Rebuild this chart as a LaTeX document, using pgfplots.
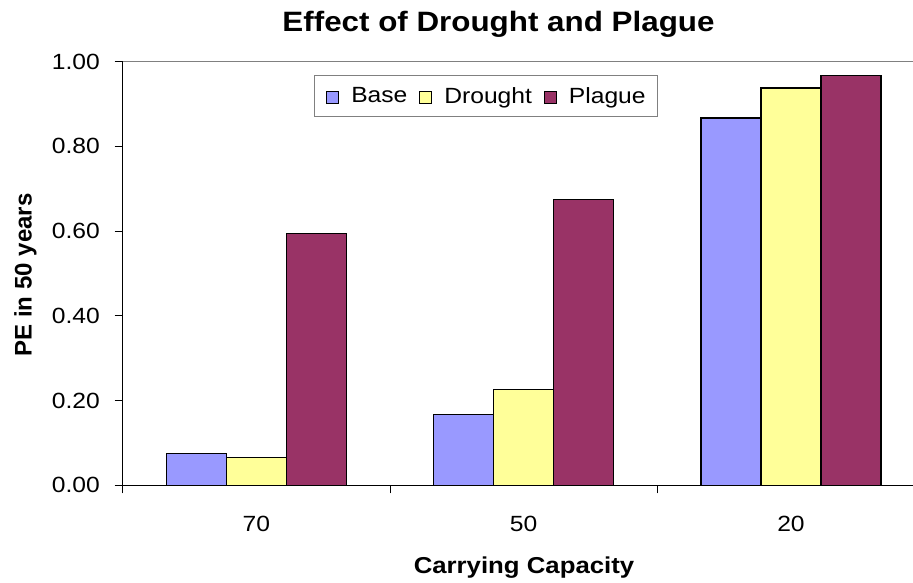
\documentclass[border=0pt]{standalone}
\usepackage{pgfplots}
\pgfplotsset{compat=1.18}
\usepackage{fontspec}
\setmainfont{Liberation Sans}
% slightly widened Arial-metric face for horizontal text
\newfontfamily\widefont[FakeStretch=1.12]{Liberation Sans}
\definecolor{baseblue}{HTML}{9999FF}
\definecolor{droughtyellow}{HTML}{FFFF99}
\definecolor{plaguepurple}{HTML}{993366}
\definecolor{frame}{HTML}{808080}

\newcommand\tickfont{\widefont\fontsize{22}{26}\selectfont}

\begin{document}
\begin{tikzpicture}[x=1pt,y=1pt]
\useasboundingbox (0,0) rectangle (913,583);
\begin{axis}[
  at={(122.7pt,97.7pt)}, anchor=south west,
  scale only axis, width=790.3pt, height=423.6pt,
  xmin=-0.5, xmax=2.4566, ymin=0, ymax=1,
  clip=false,
  axis x line*=bottom, axis y line*=left,
  axis line style={black, line width=0.9pt, -},
  tick align=outside, major tick length=8pt,
  tick style={black, line width=0.9pt},
  xtick={-0.5,0.5,1.5}, xticklabels={},
  extra x ticks={0,1,2}, extra x tick labels={70,50,20},
  extra x tick style={major tick length=0pt,
    xticklabel style={anchor=base, inner sep=0pt, yshift=-46.4pt}},
  ytick={0,0.2,0.4,0.6,0.8,1},
  yticklabel style={anchor=east, inner sep=0pt, xshift=-14.7pt},
  tick label style={font=\tickfont},
  /pgf/number format/fixed,
  /pgf/number format/fixed zerofill,
  /pgf/number format/precision=2,
  /pgf/number format/assume math mode=true,
  title={Effect of Drought and Plague},
  title style={at={(axis description cs:0.4755,1.056)}, anchor=base,
    inner sep=0pt, font=\widefont\bfseries\fontsize{28}{32}\selectfont},
  xlabel={Carrying Capacity},
  xlabel style={at={(axis description cs:0.5078,-0.2082)}, anchor=base,
    inner sep=0pt, font=\widefont\bfseries\fontsize{23}{27}\selectfont},
  ylabel={PE in 50 years},
  ylabel style={at={(axis description cs:-0.1151,0.4965)}, anchor=base,
    rotate=0, inner sep=0pt, font=\bfseries\fontsize{24}{28}\selectfont},
  legend columns=3,
  legend style={at={(axis description cs:0.4597,0.9186)}, anchor=center,
    draw=frame, line width=0.9pt, fill=white,
    inner xsep=12pt, inner ysep=11.6pt,
    column sep=12pt, nodes={inner sep=0pt},
    font=\tickfont},
  % square key sitting on the text baseline
  legend image code/.code={
    \draw[#1, line width=0.9pt] (0pt,-7.5pt) rectangle (12pt,4.5pt);},
]
\addplot[ybar, bar width=0.2245, bar shift=-0.2245,
  fill=baseblue, draw=black, line width=1.2pt]
  coordinates {(0,0.076) (1,0.168) (2,0.867)};
\addplot[ybar, bar width=0.2245, bar shift=0,
  fill=droughtyellow, draw=black, line width=1.2pt]
  coordinates {(0,0.065) (1,0.226) (2,0.938)};
\addplot[ybar, bar width=0.2245, bar shift=0.2245,
  fill=plaguepurple, draw=black, line width=1.2pt]
  coordinates {(0,0.595) (1,0.674) (2,0.967)};
\legend{Base,Drought,Plague}
% grey plot-area border along the top
\draw[frame, line width=0.9pt] (rel axis cs:0,1) -- (rel axis cs:1,1);
\end{axis}
\end{tikzpicture}
\end{document}
